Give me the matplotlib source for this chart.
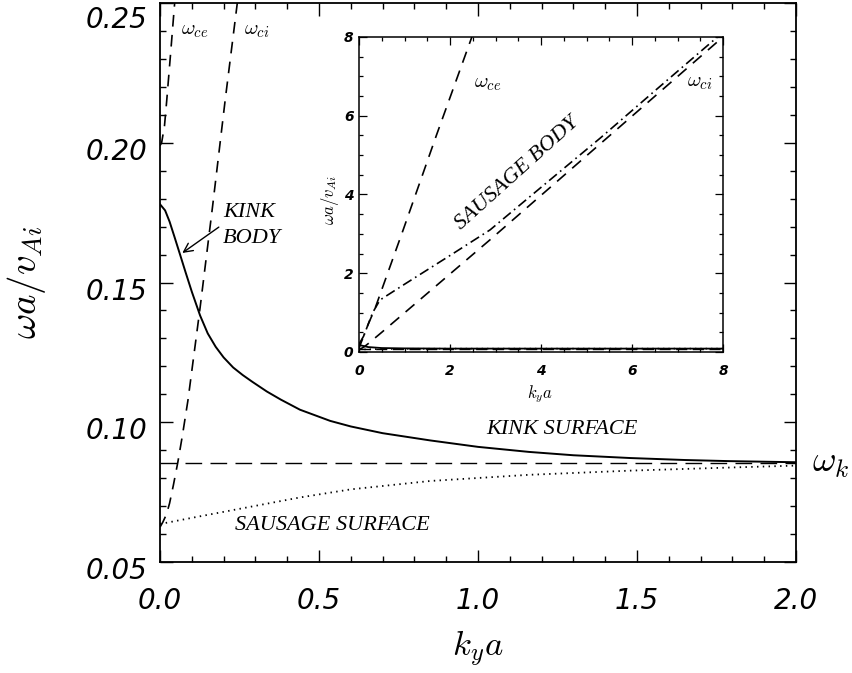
import numpy as np
import matplotlib
matplotlib.use("Agg")
import matplotlib.pyplot as plt
from matplotlib.ticker import MultipleLocator
from matplotlib.transforms import ScaledTranslation

plt.rcParams['mathtext.fontset'] = 'cm'

# main panel values
kink_body_k = [0, 0.016, 0.03, 0.045, 0.063, 0.08, 0.1, 0.126, 0.15, 0.175, 0.2, 0.23, 0.26, 0.29, 0.336,
               0.38, 0.44, 0.535, 0.6, 0.7, 0.85, 1.0, 1.16, 1.3, 1.48, 1.65, 1.79, 2.0]
kink_body_w = [0.178, 0.1758, 0.1718, 0.1665, 0.1600, 0.1538, 0.1467, 0.1382, 0.1318, 0.127, 0.1232, 0.1196,
               0.1169, 0.1145, 0.111, 0.1081, 0.1045, 0.1005, 0.0985, 0.0961, 0.0935, 0.0912, 0.0894, 0.0882,
               0.0872, 0.0865, 0.0861, 0.0857]
saus_surf_k = [0, 0.1, 0.23, 0.44, 0.6, 0.85, 1.16, 1.48, 1.79, 2.0]
saus_surf_w = [0.0636, 0.0658, 0.0686, 0.0731, 0.076, 0.079, 0.0812, 0.0827, 0.0838, 0.0845]
wce_k = [0, 0.005, 0.014, 0.021, 0.034, 0.046]
wce_w = [0.199, 0.2, 0.206, 0.215, 0.233, 0.25]
wci_k = [0, 0.009, 0.02, 0.03, 0.042, 0.056, 0.07, 0.088, 0.126, 0.165, 0.205, 0.243]
wci_w = [0.0625, 0.0643, 0.067, 0.071, 0.0775, 0.0857, 0.095, 0.108, 0.141, 0.177, 0.2154, 0.25]
w_kink = 0.0854

# inset values
in_wce_k = [0, 0.1, 0.2, 0.35, 0.97, 1.7, 2.48]
in_wce_w = [0.2, 0.4, 0.7, 1.1, 3.1, 5.5, 8.0]
in_wci_k = [0, 0.1, 0.2, 0.5, 2.88, 8]
in_wci_w = [0.06, 0.12, 0.21, 0.5, 2.85, 8.0]
in_sb_k = [0, 0.1, 0.3, 0.46, 1.0, 2.0, 2.88, 4.0, 5.3, 6.5, 8]
in_sb_w = [0.1, 0.4, 1.0, 1.32, 1.72, 2.45, 3.1, 4.18, 5.43, 6.63, 8.12]
in_kb_k = [0, 0.2, 0.5, 1, 2, 8]
in_kb_w = [0.178, 0.125, 0.10, 0.091, 0.0857, 0.0854]
in_ss_k = [0, 0.5, 1, 2, 8]
in_ss_w = [0.0636, 0.075, 0.080, 0.0846, 0.0854]

fig = plt.figure(figsize=(8.53, 6.73), dpi=100)
ax = fig.add_axes([0.1876, 0.1649, 0.7456, 0.8306])

ax.plot(kink_body_k, kink_body_w, color='k', lw=1.4)
ax.plot(saus_surf_k, saus_surf_w, color='k', lw=1.3, linestyle=(0, (0.8, 2.4)))
ax.plot(wce_k, wce_w, color='k', lw=1.2, dashes=(7, 5))
ax.plot(wci_k, wci_w, color='k', lw=1.2, dashes=(7, 5))
ax.axhline(w_kink, color='k', lw=1.0, dashes=(12, 6))

ax.set_xlim(0, 2.0)
ax.set_ylim(0.05, 0.25)
ax.xaxis.set_major_locator(MultipleLocator(0.5))
ax.xaxis.set_minor_locator(MultipleLocator(0.1))
ax.yaxis.set_major_locator(MultipleLocator(0.05))
ax.yaxis.set_minor_locator(MultipleLocator(0.01))
ax.xaxis.set_major_formatter(lambda v, p: '%.1f' % v)
ax.yaxis.set_major_formatter(lambda v, p: '%.2f' % v)
ax.tick_params(which='both', direction='in', top=True, right=True, width=1.0)
ax.tick_params(which='major', length=9)
ax.tick_params(which='minor', length=4.5)
ax.tick_params(axis='x', pad=18)
ax.tick_params(axis='y', pad=9)
for lab in ax.get_xticklabels() + ax.get_yticklabels():
    lab.set_fontfamily('DejaVu Sans')
    lab.set_fontstyle('oblique')
    lab.set_fontsize(20)
# y labels sit a little below their ticks in the original
for loc, lab in zip(ax.get_yticks(), ax.get_yticklabels()):
    shift = 0.14 if loc > 0.249 else 0.06
    lab.set_transform(lab.get_transform() + ScaledTranslation(0, -shift, fig.dpi_scale_trans))
for s in ax.spines.values():
    s.set_linewidth(1.3)

ax.set_xlabel(r'$k_y a$', fontsize=25)
ax.xaxis.set_label_coords(0.5, -0.12)
ax.set_ylabel(r'$\omega a/v_{Ai}$', fontsize=28)
ax.yaxis.set_label_coords(-0.176, 0.5)

ax.text(0.11, 0.2404, r'$\omega_{ce}$', fontsize=15, ha='center', va='center')
ax.text(0.305, 0.2404, r'$\omega_{ci}$', fontsize=15, ha='center', va='center')
ax.text(2.05, w_kink, r'$\omega_k$', fontsize=26, ha='left', va='center', clip_on=False)

serif = dict(family='Liberation Serif', style='italic', fontsize=16)
ax.text(0.198, 0.175, 'KINK', ha='left', va='center', **serif)
ax.text(0.198, 0.1657, 'BODY', ha='left', va='center', **serif)
ax.annotate('', xy=(0.063, 0.160), xytext=(0.192, 0.1704),
            arrowprops=dict(arrowstyle='->', color='k', lw=1.0, mutation_scale=16))
ax.text(1.264, 0.0975, 'KINK SURFACE', ha='center', va='center', **serif)
ax.text(0.541, 0.0629, 'SAUSAGE SURFACE', ha='center', va='center', **serif)

# inset
ins = fig.add_axes([0.4209, 0.4770, 0.4267, 0.4681])
ins.plot(in_kb_k, in_kb_w, color='k', lw=1.3)
ins.plot(in_ss_k, in_ss_w, color='k', lw=1.2, linestyle=(0, (0.8, 2.4)))
ins.axhline(w_kink, color='k', lw=1.0, dashes=(8, 4))
ins.plot(in_wce_k, in_wce_w, color='k', lw=1.2, dashes=(7, 5))
ins.plot(in_wci_k, in_wci_w, color='k', lw=1.2, dashes=(7, 5))
ins.plot(in_sb_k, in_sb_w, color='k', lw=1.2, dashes=(6, 2.5, 1, 2.5))
ins.set_xlim(0, 8)
ins.set_ylim(0, 8)
ins.xaxis.set_major_locator(MultipleLocator(2))
ins.xaxis.set_minor_locator(MultipleLocator(0.5))
ins.yaxis.set_major_locator(MultipleLocator(2))
ins.yaxis.set_minor_locator(MultipleLocator(0.5))
ins.tick_params(which='both', direction='in', top=True, right=True, width=0.9)
ins.tick_params(which='major', length=6)
ins.tick_params(which='minor', length=3)
ins.tick_params(axis='x', pad=9)
ins.tick_params(axis='y', pad=4)
for lab in ins.get_xticklabels() + ins.get_yticklabels():
    lab.set_fontfamily('DejaVu Sans')
    lab.set_fontstyle('oblique')
    lab.set_fontweight('bold')
    lab.set_fontsize(10)
for s in ins.spines.values():
    s.set_linewidth(1.1)
ins.set_xlabel(r'$k_y a$', fontsize=12)
ins.xaxis.set_label_coords(0.497, -0.098)
ins.set_ylabel(r'$\omega a/v_{Ai}$', fontsize=12)
ins.yaxis.set_label_coords(-0.05, 0.483)
ins.text(2.84, 6.83, r'$\omega_{ce}$', fontsize=15, ha='center', va='center')
ins.text(7.49, 6.85, r'$\omega_{ci}$', fontsize=15, ha='center', va='center')
ins.text(3.47, 4.54, 'SAUSAGE BODY', rotation=42, ha='center', va='center',
         rotation_mode='anchor', **serif)

fig.savefig('out.png', dpi=100)
